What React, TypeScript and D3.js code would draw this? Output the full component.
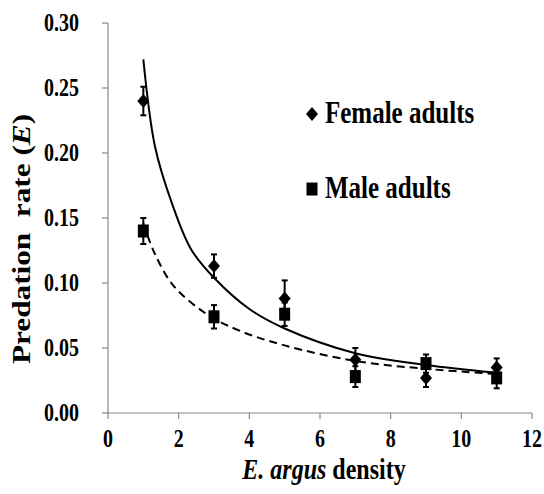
import React from 'react';
import * as d3 from 'd3';

// densities and observed predation rates (mean, se)
const densities = [1, 3, 5, 7, 9, 11];
const femaleMeans = [0.240, 0.113, 0.088, 0.041, 0.027, 0.035];
const femaleErr = [0.011, 0.009, 0.014, 0.009, 0.007, 0.007];
const maleMeans = [0.140, 0.074, 0.076, 0.028, 0.038, 0.027];
const maleErr = [0.010, 0.009, 0.009, 0.008, 0.007, 0.008];

// fitted curves
const femaleFitX = [1, 1.33, 1.8, 2.35, 3, 4, 5, 7, 9, 11];
const femaleFitY = [0.272, 0.205, 0.162, 0.126, 0.104, 0.08, 0.065, 0.046, 0.037, 0.031];
const maleFitX = [1, 1.3, 1.85, 2.8, 3.75, 5, 7, 9, 11];
const maleFitY = [0.146, 0.124, 0.098, 0.076, 0.063, 0.052, 0.04, 0.034, 0.03];

const legendLabels = ['Female adults', 'Male adults'];

const FONT = '"Liberation Serif", "Times New Roman", serif';
const AXIS = '#878787';
const SY = 1.25;

const T = ({ x, y, size, anchor = 'start', sy = SY, children }: any) => (
  <text
    transform={`translate(${x},${y}) scale(1,${sy})`}
    fontFamily={FONT}
    fontWeight="bold"
    fontSize={size}
    textAnchor={anchor}
    fill="#000"
    style={{ whiteSpace: 'pre' }}
  >
    {children}
  </text>
);

const Diamond = ({ cx, cy }: { cx: number; cy: number }) => (
  <path d={`M${cx},${cy - 7}L${cx + 6},${cy}L${cx},${cy + 7}L${cx - 6},${cy}Z`} fill="#000" />
);
const Square = ({ cx, cy }: { cx: number; cy: number }) => (
  <rect x={cx - 5.5} y={cy - 6.5} width={11} height={13} fill="#000" />
);

export default function App() {
  const width = 544;
  const height = 494;
  const x = d3.scaleLinear().domain([0, 12]).range([108, 532]);
  const y = d3.scaleLinear().domain([0, 0.3]).range([413, 23]);

  const fitLine = (ys: number[]) =>
    d3
      .line<number>()
      .x((d) => x(d))
      .y((_, i) => y(ys[i]))
      .curve(d3.curveCatmullRom.alpha(0.5));

  const femalePath = fitLine(femaleFitY)(femaleFitX);
  const malePath = fitLine(maleFitY)(maleFitX);

  const errBar = (d: number, m: number, e: number, key: string) => (
    <g key={key} stroke="#000" strokeWidth={2}>
      <line x1={x(d)} x2={x(d)} y1={y(m - e)} y2={y(m + e)} />
      <line x1={x(d) - 3} x2={x(d) + 3} y1={y(m - e)} y2={y(m - e)} />
      <line x1={x(d) - 3} x2={x(d) + 3} y1={y(m + e)} y2={y(m + e)} />
    </g>
  );

  return (
    <svg
      width={width}
      height={height}
      style={{ position: 'absolute', left: 0, top: 0, background: '#fff' }}
    >
      {/* axes */}
      <g stroke={AXIS} strokeWidth={1.2}>
        <line x1={x(0)} x2={x(0)} y1={y(0.3)} y2={y(0)} />
        <line x1={x(0)} x2={x(12)} y1={y(0)} y2={y(0)} />
        {y.ticks(6).map((t) => (
          <line key={'yt' + t} x1={x(0) - 6} x2={x(0)} y1={y(t)} y2={y(t)} />
        ))}
        {x.ticks(6).map((t) => (
          <line key={'xt' + t} x1={x(t)} x2={x(t)} y1={y(0)} y2={y(0) + 6} />
        ))}
      </g>
      {y.ticks(6).map((t) => (
        <T key={'yl' + t} x={79} y={y(t) + 8} size={20} anchor="end">
          {d3.format('.2f')(t)}
        </T>
      ))}
      {x.ticks(6).map((t) => (
        <T key={'xl' + t} x={x(t)} y={447} size={20} anchor="middle">
          {String(t)}
        </T>
      ))}
      <T x={324} y={479} size={24} anchor="middle" sy={1.2}>
        <tspan fontStyle="italic">E. argus</tspan> density
      </T>
      <text
        transform={`translate(30,239) rotate(-90) scale(${SY},1)`}
        fontFamily={FONT}
        fontWeight="bold"
        fontSize={25}
        textAnchor="middle"
        style={{ whiteSpace: 'pre' }}
      >
        Predation  rate (<tspan fontStyle="italic">E</tspan>)
      </text>

      {/* fitted curves */}
      <path d={femalePath ?? ''} fill="none" stroke="#000" strokeWidth={2} />
      <path d={malePath ?? ''} fill="none" stroke="#000" strokeWidth={2} strokeDasharray="8,5" />

      {/* observations */}
      {densities.map((d, i) => errBar(d, femaleMeans[i], femaleErr[i], 'fe' + i))}
      {densities.map((d, i) => errBar(d, maleMeans[i], maleErr[i], 'me' + i))}
      {densities.map((d, i) => (
        <Square key={'ms' + i} cx={x(d)} cy={y(maleMeans[i])} />
      ))}
      {densities.map((d, i) => (
        <Diamond key={'fd' + i} cx={x(d)} cy={y(femaleMeans[i])} />
      ))}

      {/* legend */}
      <Diamond cx={312} cy={114} />
      <T x={325} y={123} size={25}>{legendLabels[0]}</T>
      <Square cx={312} cy={189} />
      <T x={325} y={198} size={25}>{legendLabels[1]}</T>
    </svg>
  );
}
